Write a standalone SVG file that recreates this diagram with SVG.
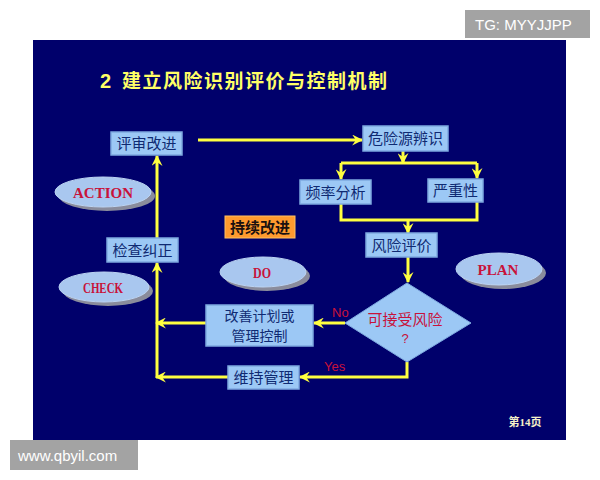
<svg xmlns="http://www.w3.org/2000/svg" width="600" height="480" viewBox="0 0 600 480">
<defs>
<style>
.box{fill:#9cc8f5;stroke:#7ea9e0;stroke-width:1.5}
.bt{font-family:"Noto Sans CJK SC","Liberation Sans",sans-serif;font-size:15px;fill:#0f2a72;text-anchor:middle}
.bt2{font-family:"Noto Sans CJK SC","Liberation Sans",sans-serif;font-size:14px;fill:#0f2a72;text-anchor:middle}
.ell{fill:#a9c7ef;stroke:#bcd4f3;stroke-width:1}
.sh{fill:#8a8c9c}
.et{font-family:"Liberation Serif",serif;font-weight:bold;font-size:15px;fill:#c8123a;text-anchor:middle}
.ln{fill:none;stroke:#ffff40;stroke-width:3}
.lb{font-family:"Liberation Sans",sans-serif;font-size:13px;fill:#c8123a}
.wm{font-family:"Liberation Sans",sans-serif;font-size:15px;fill:#ffffff}
</style>
<marker id="ah" viewBox="0 0 10 10" refX="9" refY="5" markerWidth="11" markerHeight="11" markerUnits="userSpaceOnUse" orient="auto">
<path d="M0,0 L10,5 L0,10 L3.5,5 z" fill="#ffff40"/>
</marker>
</defs>
<rect x="0" y="0" width="600" height="480" fill="#ffffff"/>
<rect x="33" y="40" width="533" height="400" fill="#00006b"/>
<g id="title"><text x="100" y="88" font-family="Liberation Sans,sans-serif" font-weight="bold" font-size="20" fill="#ffff66">2</text><text x="122" y="88" font-family="Noto Sans CJK SC,sans-serif" font-weight="bold" font-size="19" letter-spacing="1.5" fill="#ffff66">建立风险识别评价与控制机制</text></g>
<g id="connectors">
<path class="ln" d="M198,140 H362" marker-end="url(#ah)"/>
<path class="ln" d="M403,151 V163" marker-end="url(#ah)"/>
<path class="ln" d="M341,163 H477"/>
<path class="ln" d="M341,163 V179" marker-end="url(#ah)"/>
<path class="ln" d="M477,163 V178" marker-end="url(#ah)"/>
<path class="ln" d="M341,204 V220 H477 V202"/>
<path class="ln" d="M408,220 V233" marker-end="url(#ah)"/>
<path class="ln" d="M408,257 V282" marker-end="url(#ah)"/>
<path class="ln" d="M345,323 H314" marker-end="url(#ah)"/>
<path class="ln" d="M206,323 H156" marker-end="url(#ah)"/>
<path class="ln" d="M407,362 V377 H300" marker-end="url(#ah)"/>
<path class="ln" d="M228,377 H156" marker-end="url(#ah)"/>
<path class="ln" d="M157,378 V263" marker-end="url(#ah)"/>
<path class="ln" d="M157,238 V156" marker-end="url(#ah)"/>
<text class="lb" x="332" y="317">No</text>
<text class="lb" x="324" y="371">Yes</text>
</g>
<g id="n-review"><rect class="box" x="111" y="132" width="71" height="23"/><text class="bt" x="146.5" y="149">评审改进</text></g>
<g id="n-hazard"><rect class="box" x="363" y="126" width="85" height="25"/><text class="bt" x="405.5" y="144">危险源辨识</text></g>
<g id="n-freq"><rect class="box" x="300" y="180" width="71" height="24"/><text class="bt" x="335.5" y="197.5">频率分析</text></g>
<g id="n-sev"><rect class="box" x="428" y="179" width="55" height="23"/><text class="bt" x="455.5" y="196">严重性</text></g>
<g id="n-eval"><rect class="box" x="366" y="233" width="71" height="24"/><text class="bt" x="401.5" y="250.5">风险评价</text></g>
<g id="n-check"><rect class="box" x="107" y="238" width="71" height="24"/><text class="bt" x="142.5" y="255.5">检查纠正</text></g>
<g id="n-improve"><rect x="225" y="216" width="70" height="22" fill="#ff9a2e" stroke="#ffc060" stroke-width="1"/><text x="260" y="232.5" font-family="Noto Sans CJK SC,sans-serif" font-weight="bold" font-size="15" fill="#1a1010" text-anchor="middle">持续改进</text></g>
<g id="n-plan2"><rect class="box" x="206" y="305" width="107" height="41"/><text class="bt2" x="259.5" y="321">改善计划或</text><text class="bt2" x="259.5" y="340.5">管理控制</text></g>
<g id="n-maintain"><rect class="box" x="228" y="366" width="71" height="23"/><text class="bt" x="263.5" y="383">维持管理</text></g>
<g id="n-decision"><polygon points="407,283 471,323 407,362 345,323" fill="#9cc8f5" stroke="#7ea9e0" stroke-width="1"/><text x="405" y="325" font-family="Noto Sans CJK SC,sans-serif" font-size="15" fill="#c8123a" text-anchor="middle">可接受风险</text><text x="405" y="343" font-family="Liberation Sans,sans-serif" font-size="13" fill="#c8123a" text-anchor="middle">?</text></g>
<g id="e-action"><ellipse class="sh" cx="107" cy="196" rx="48" ry="15"/><ellipse class="ell" cx="103" cy="192" rx="48" ry="15"/><text class="et" x="103" y="197.5">ACTION</text></g>
<g id="e-check"><ellipse class="sh" cx="108" cy="291" rx="45" ry="15"/><ellipse class="ell" cx="104" cy="287" rx="45" ry="15"/><text class="et" x="103" y="292.5" textLength="40" lengthAdjust="spacingAndGlyphs">CHECK</text></g>
<g id="e-do"><ellipse class="sh" cx="267" cy="276" rx="43" ry="15"/><ellipse class="ell" cx="263" cy="272" rx="43" ry="15"/><text class="et" x="262" y="277.5" textLength="18" lengthAdjust="spacingAndGlyphs">DO</text></g>
<g id="e-plan"><ellipse class="sh" cx="503" cy="273" rx="43" ry="16"/><ellipse class="ell" cx="499" cy="269" rx="43" ry="16"/><text class="et" x="498" y="274.5">PLAN</text></g>
<text x="525" y="426" font-family="Liberation Serif,Noto Sans CJK SC,serif" font-weight="bold" font-size="11" fill="#f4f0c8" text-anchor="middle">第14页</text>
<g id="wm-tg"><rect x="465" y="10" width="125" height="28" fill="#a3a3a3"/><text class="wm" x="475" y="30">TG: MYYJJPP</text></g>
<g id="wm-www"><rect x="10" y="440" width="128" height="30" fill="#a3a3a3"/><text class="wm" x="18" y="461">www.qbyil.com</text></g>
</svg>
